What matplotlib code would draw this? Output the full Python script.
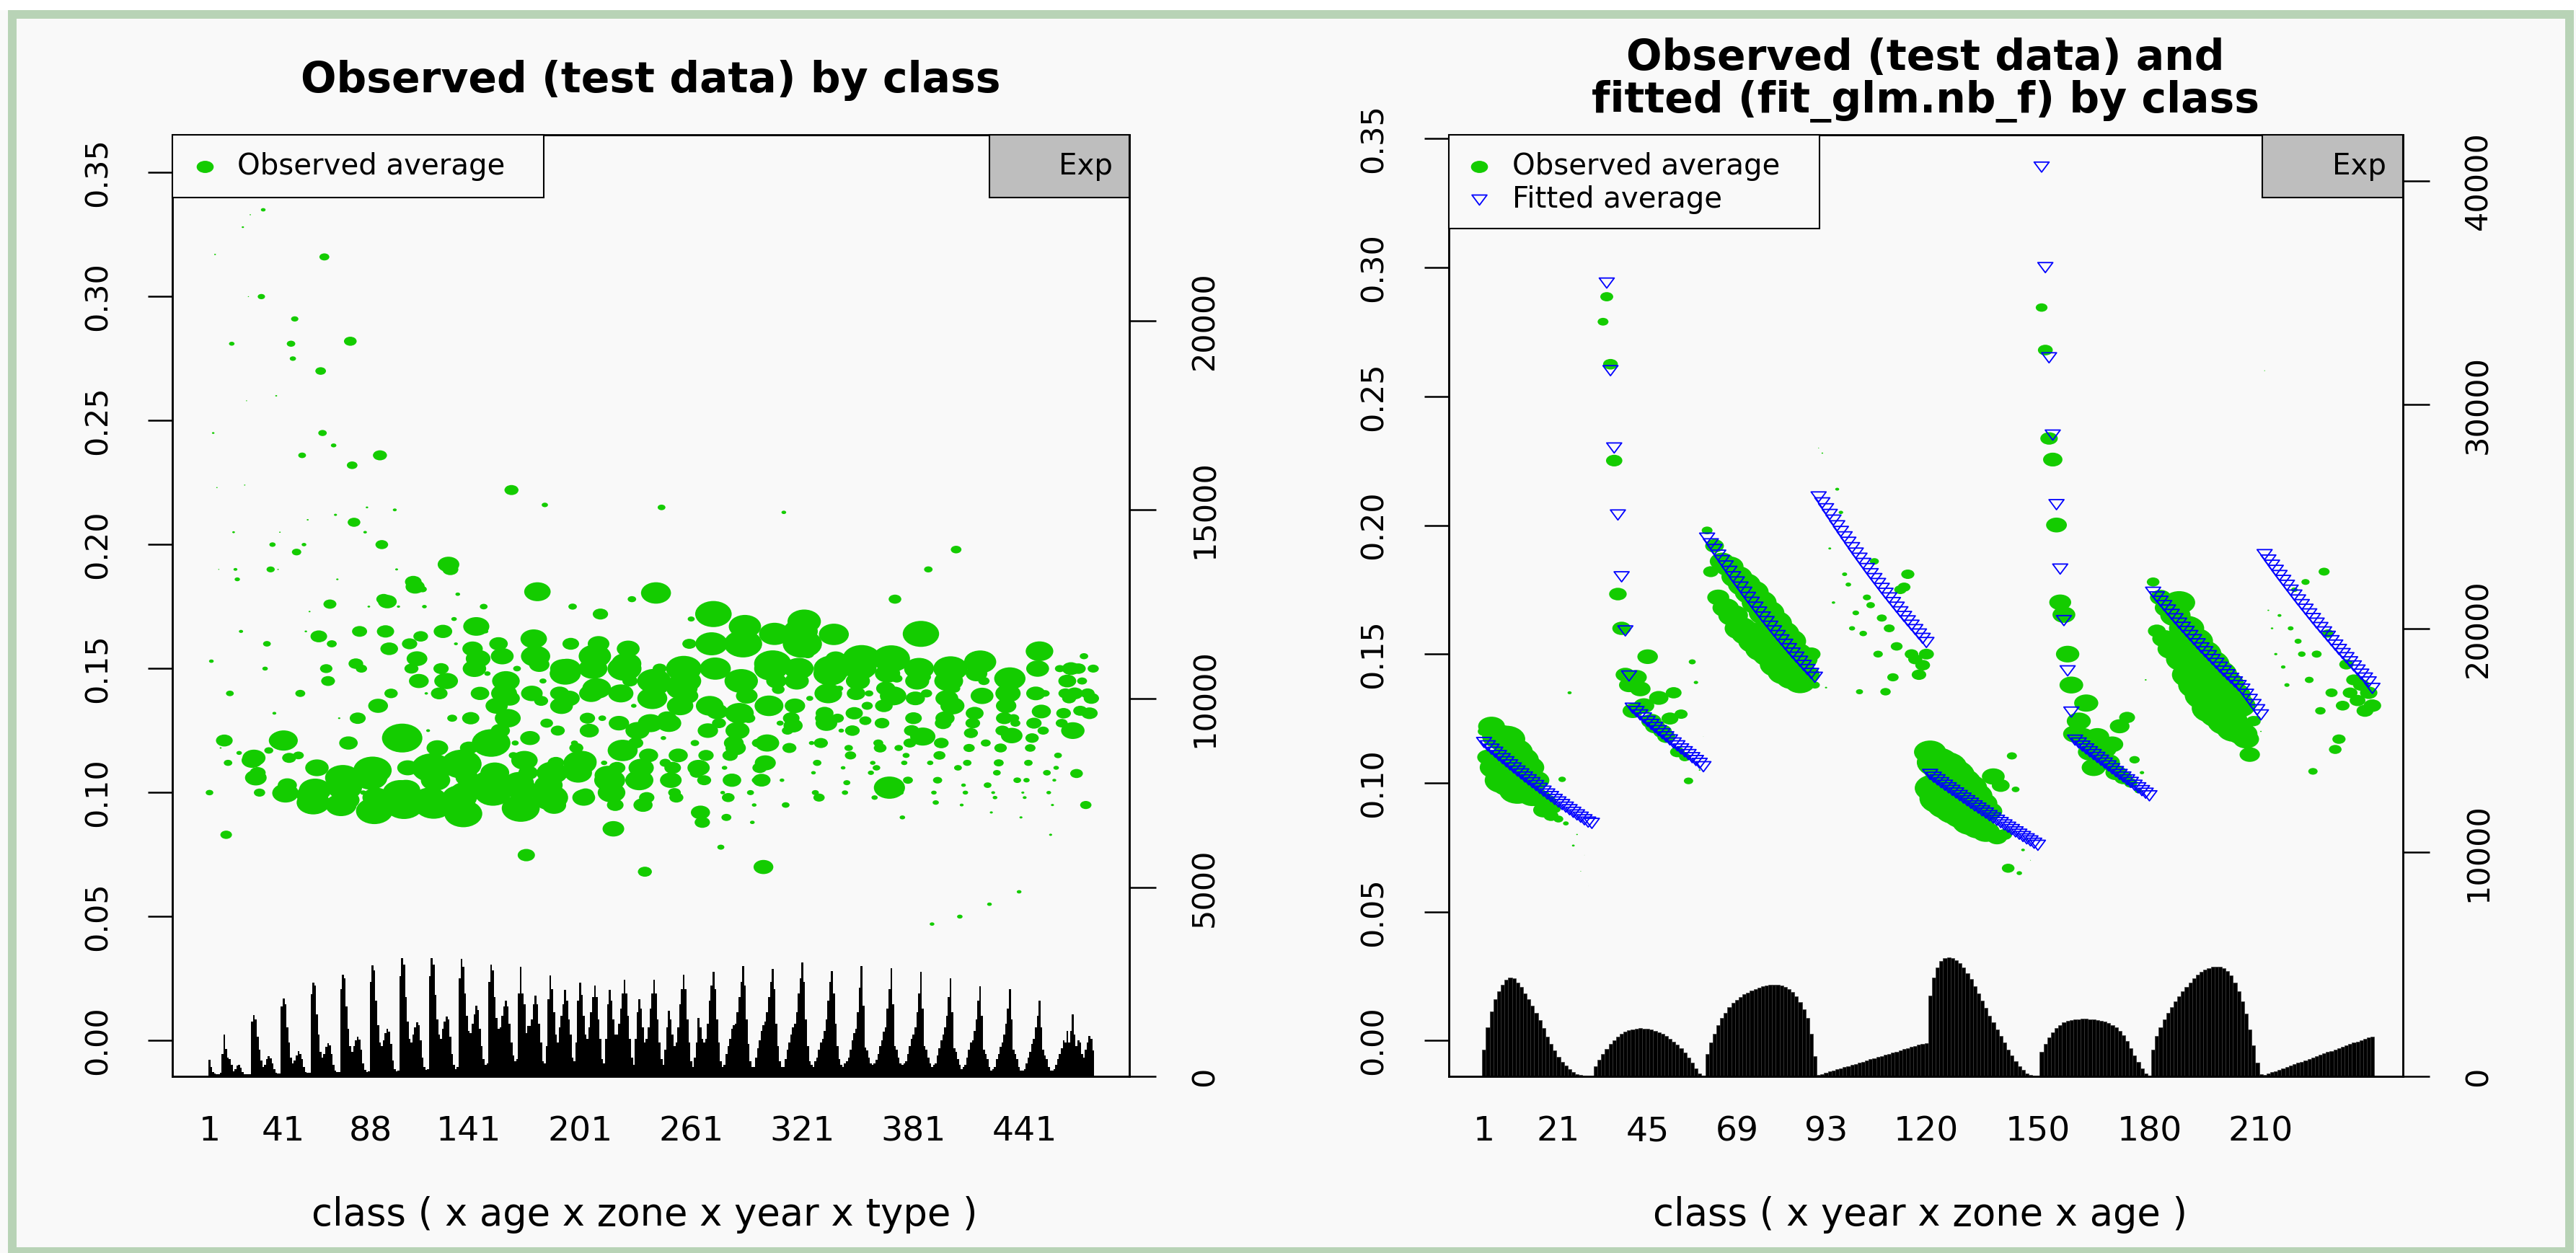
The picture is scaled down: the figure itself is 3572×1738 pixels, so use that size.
import numpy as np
import matplotlib
matplotlib.use("Agg")
import matplotlib.pyplot as plt
from matplotlib.path import Path
from matplotlib.patches import Rectangle
from matplotlib.lines import Line2D

# ---------------- data ----------------
# left panel: exposure per class (bars) and observed average (bubbles)
exp_left = [
    439, 250, 120, 80, 60, 50, 90, 600,
    1107, 720, 500, 450, 300, 130, 200, 290,
    300, 220, 110, 60, 50, 50, 60, 1450,
    1616, 1500, 1050, 700, 420, 250, 300, 450,
    534, 480, 350, 200, 90, 70, 70, 1850,
    2061, 1900, 1300, 900, 500, 350, 420, 560,
    662, 600, 450, 250, 120, 90, 90, 2180,
    2487, 2400, 1650, 1100, 650, 500, 600, 780,
    884, 820, 600, 300, 150, 110, 110, 2300,
    2697, 2600, 1850, 1250, 800, 650, 800, 950,
    1050, 980, 700, 350, 180, 120, 130, 2500,
    2933, 2800, 2000, 1350, 900, 800, 950, 1150,
    1266, 1180, 850, 420, 200, 140, 160, 2650,
    3124, 2950, 2100, 1450, 1000, 900, 1100, 1300,
    1425, 1350, 950, 500, 250, 170, 200, 2650,
    3124, 2950, 2150, 1500, 1100, 1000, 1250, 1450,
    1584, 1500, 1050, 600, 300, 200, 250, 2600,
    3113, 2900, 2200, 1600, 1200, 1150, 1400, 1650,
    1870, 1750, 1250, 800, 450, 300, 350, 2500,
    2964, 2800, 2100, 1550, 1250, 1300, 1600, 1850,
    1998, 1850, 1400, 900, 550, 400, 450, 2200,
    2907, 2200, 1900, 1150, 1340, 1340, 1500, 1900,
    2137, 1900, 1400, 900, 400, 350, 800, 2050,
    2678, 2300, 1700, 1100, 900, 1300, 1600, 1900,
    2297, 2000, 1500, 1100, 500, 400, 900, 2000,
    2475, 2150, 1600, 1100, 1000, 1300, 1700, 2100,
    2411, 2100, 1500, 1000, 450, 350, 1000, 1900,
    2284, 2000, 1500, 1100, 1100, 1400, 1800, 2200,
    2551, 2200, 1600, 1000, 500, 300, 1000, 1700,
    2042, 1800, 1300, 900, 1000, 1300, 1800, 2200,
    2551, 2200, 1500, 900, 450, 300, 700, 1300,
    1743, 1500, 1100, 800, 900, 1300, 1900, 2300,
    2697, 2300, 1500, 900, 400, 250, 500, 900,
    1552, 1300, 1000, 900, 1000, 1400, 2000, 2400,
    2773, 2300, 1500, 900, 400, 250, 300, 600,
    800, 1000, 1250, 1350, 1400, 1700, 2100, 2500,
    2920, 2400, 1500, 850, 400, 250, 250, 500,
    750, 950, 1200, 1350, 1450, 1700, 2100, 2500,
    2837, 2300, 1400, 800, 400, 250, 250, 450,
    700, 900, 1100, 1300, 1400, 1700, 2200, 2600,
    3015, 2500, 1500, 800, 400, 300, 250, 400,
    500, 700, 900, 1000, 1200, 1500, 2000, 2500,
    2793, 2200, 1400, 800, 450, 300, 250, 350,
    400, 500, 700, 950, 1150, 1250, 1700, 2350,
    2920, 1870, 760, 690, 500, 340, 300, 350,
    440, 600, 800, 950, 1180, 1300, 1800, 2300,
    2856, 1900, 800, 700, 500, 350, 300, 350,
    400, 600, 800, 1000, 1100, 1300, 1700, 2200,
    2761, 1800, 800, 700, 500, 350, 250, 300,
    350, 550, 750, 950, 1100, 1300, 1600, 2100,
    2590, 1700, 750, 650, 450, 300, 200, 250,
    300, 500, 700, 900, 950, 1200, 1500, 2000,
    2379, 1600, 700, 600, 450, 250, 150, 200,
    250, 450, 600, 790, 900, 1100, 1400, 1800,
    2316, 1500, 700, 600, 450, 250, 150, 150,
    200, 350, 500, 650, 850, 1000, 1300, 1600,
    1998, 1300, 700, 550, 450, 250, 150, 150,
    200, 300, 450, 600, 750, 950, 900, 1200,
    900, 1200, 1648, 1100, 800, 950, 900, 600,
    500, 700, 900, 1075, 1000, 690, 0, 0,
]

obs_left = [
    0.100, 0.153, 0.245, 0.317, 0.223, 0.190, 0.118, 0.121,
    0.121, 0.083, 0.112, 0.140, 0.281, 0.205, 0.190, 0.186,
    0.116, 0.165, 0.328, 0.224, 0.258, 0.300, 0.333, 0.113,
    0.114, 0.106, 0.108, 0.100, 0.300, 0.335, 0.150, 0.160,
    0.117, 0.190, 0.200, 0.132, 0.260, 0.190, 0.205, 0.121,
    0.121, 0.0998, 0.103, 0.114, 0.281, 0.275, 0.291, 0.197,
    0.115, 0.140, 0.236, 0.200, 0.165, 0.210, 0.173, 0.099,
    0.096, 0.101, 0.110, 0.163, 0.270, 0.245, 0.316, 0.150,
    0.145, 0.176, 0.160, 0.240, 0.212, 0.186, 0.130, 0.095,
    0.106, 0.102, 0.097, 0.120, 0.282, 0.232, 0.209, 0.152,
    0.130, 0.165, 0.150, 0.100, 0.205, 0.215, 0.175, 0.106,
    0.109, 0.0926, 0.098, 0.135, 0.236, 0.200, 0.178, 0.165,
    0.177, 0.158, 0.140, 0.120, 0.214, 0.190, 0.175, 0.100,
    0.122, 0.0949, 0.101, 0.110, 0.160, 0.150, 0.185, 0.183,
    0.154, 0.145, 0.163, 0.182, 0.175, 0.140, 0.125, 0.097,
    0.110, 0.095, 0.105, 0.118, 0.140, 0.150, 0.165, 0.145,
    0.145, 0.192, 0.190, 0.130, 0.170, 0.160, 0.180, 0.098,
    0.1115, 0.0915, 0.100, 0.106, 0.118, 0.130, 0.158, 0.150,
    0.167, 0.154, 0.140, 0.120, 0.175, 0.165, 0.148, 0.104,
    0.120, 0.100, 0.108, 0.135, 0.160, 0.125, 0.155, 0.140,
    0.145, 0.130, 0.138, 0.222, 0.115, 0.120, 0.150, 0.104,
    0.0937, 0.101, 0.113, 0.0748, 0.108, 0.122, 0.140, 0.162,
    0.155, 0.181, 0.1516, 0.137, 0.145, 0.216, 0.128, 0.103,
    0.098, 0.108, 0.0949, 0.112, 0.125, 0.140, 0.135, 0.150,
    0.148, 0.150, 0.138, 0.160, 0.175, 0.120, 0.118, 0.108,
    0.112, 0.1126, 0.098, 0.0993, 0.130, 0.125, 0.140, 0.150,
    0.155, 0.142, 0.160, 0.172, 0.130, 0.112, 0.100, 0.107,
    0.105, 0.100, 0.0854, 0.095, 0.110, 0.128, 0.140, 0.117,
    0.150, 0.152, 0.158, 0.145, 0.178, 0.135, 0.120, 0.125,
    0.105, 0.110, 0.095, 0.0681, 0.098, 0.115, 0.128, 0.138,
    0.145, 0.1805, 0.1427, 0.150, 0.215, 0.122, 0.112, 0.130,
    0.128, 0.105, 0.110, 0.100, 0.098, 0.115, 0.135, 0.142,
    0.150, 0.145, 0.139, 0.160, 0.170, 0.140, 0.120, 0.108,
    0.110, 0.092, 0.088, 0.105, 0.115, 0.125, 0.135, 0.160,
    0.172, 0.150, 0.1327, 0.128, 0.078, 0.100, 0.110, 0.090,
    0.098, 0.115, 0.105, 0.120, 0.118, 0.125, 0.132, 0.145,
    0.160, 0.167, 0.139, 0.130, 0.100, 0.088, 0.095, 0.105,
    0.120, 0.110, 0.105, 0.070, 0.112, 0.120, 0.135, 0.150,
    0.152, 0.164, 0.145, 0.1416, 0.128, 0.105, 0.213, 0.095,
    0.125, 0.118, 0.130, 0.127, 0.135, 0.145, 0.150, 0.165,
    0.160, 0.169, 0.160, 0.156, 0.138, 0.120, 0.108, 0.100,
    0.112, 0.098, 0.120, 0.130, 0.132, 0.128, 0.140, 0.148,
    0.150, 0.1638, 0.154, 0.130, 0.142, 0.125, 0.110, 0.100,
    0.104, 0.118, 0.115, 0.125, 0.132, 0.140, 0.145, 0.150,
    0.154, 0.150, 0.129, 0.135, 0.140, 0.108, 0.112, 0.098,
    0.110, 0.120, 0.118, 0.128, 0.135, 0.142, 0.148, 0.102,
    0.154, 0.139, 0.178, 0.146, 0.118, 0.100, 0.090, 0.112,
    0.115, 0.105, 0.120, 0.125, 0.130, 0.138, 0.145, 0.150,
    0.164, 0.1226, 0.1466, 0.140, 0.190, 0.112, 0.047, 0.100,
    0.096, 0.105, 0.115, 0.120, 0.128, 0.130, 0.138, 0.145,
    0.150, 0.135, 0.142, 0.198, 0.110, 0.050, 0.095, 0.103,
    0.100, 0.112, 0.118, 0.124, 0.128, 0.132, 0.148, 0.153,
    0.1527, 0.139, 0.145, 0.120, 0.103, 0.055, 0.092, 0.100,
    0.098, 0.108, 0.112, 0.118, 0.125, 0.130, 0.135, 0.140,
    0.146, 0.123, 0.130, 0.128, 0.105, 0.060, 0.090, 0.100,
    0.098, 0.105, 0.112, 0.118, 0.122, 0.128, 0.140, 0.150,
    0.157, 0.1327, 0.125, 0.140, 0.108, 0.100, 0.083, 0.095,
    0.105, 0.110, 0.115, 0.150, 0.128, 0.132, 0.140, 0.145,
    0.138, 0.150, 0.125, 0.140, 0.1077, 0.150, 0.133, 0.145,
    0.155, 0.095, 0.140, 0.132, 0.138, 0.150, 0.150, 0.150,
]

# right panel: exposure, observed and fitted average per class
exp_right = [
    1200, 2200, 2900, 3450, 3800, 4100, 4330, 4420, 4380, 4200,
    3980, 3700, 3450, 3150, 2850, 2520, 2150, 1780, 1450, 1150,
    880, 650, 470, 320, 200, 110, 50, 20, 10, 5,
    450, 750, 1000, 1230, 1440, 1620, 1770, 1890, 1990, 2060,
    2100, 2130, 2142, 2140, 2120, 2090, 2040, 1980, 1900, 1800,
    1690, 1560, 1420, 1250, 1060, 840, 600, 350, 130, 20,
    1000, 1500, 1900, 2300, 2600, 2850, 3080, 3270, 3420, 3550,
    3660, 3750, 3830, 3900, 3960, 4010, 4050, 4080, 4094, 4090,
    4060, 4000, 3900, 3770, 3580, 3330, 3000, 2600, 1900, 900,
    60, 110, 160, 210, 260, 310, 360, 410, 460, 510,
    560, 610, 660, 710, 760, 810, 860, 910, 960, 1010,
    1060, 1110, 1160, 1210, 1260, 1310, 1360, 1410, 1440, 1469,
    3600, 4400, 4850, 5150, 5270, 5298, 5290, 5200, 5050, 4850,
    4620, 4340, 4030, 3700, 3380, 3050, 2720, 2400, 2100, 1800,
    1500, 1200, 920, 680, 450, 280, 140, 50, 10, 5,
    1100, 1450, 1750, 1980, 2150, 2290, 2400, 2470, 2510, 2540,
    2555, 2563, 2563, 2555, 2540, 2520, 2490, 2450, 2390, 2300,
    2180, 2020, 1820, 1570, 1270, 950, 630, 350, 130, 20,
    1200, 1800, 2200, 2550, 2850, 3100, 3350, 3580, 3800, 4000,
    4200, 4380, 4530, 4660, 4760, 4830, 4880, 4895, 4880, 4820,
    4700, 4500, 4200, 3800, 3350, 2800, 2100, 1400, 600, 100,
    60, 120, 180, 240, 300, 360, 420, 480, 540, 600,
    660, 720, 780, 840, 900, 960, 1020, 1080, 1140, 1200,
    1260, 1320, 1380, 1440, 1500, 1560, 1620, 1680, 1742, 1760,
]

obs_right = [
    0.120, 0.110, 0.122, 0.106, 0.118, 0.101, 0.117, 0.100, 0.112, 0.097,
    0.109, 0.099, 0.106, 0.095, 0.101, 0.094, 0.0895, 0.093, 0.0873, 0.090,
    0.086, 0.1014, 0.0843, 0.135, 0.0757, 0.080, 0.0657, 0.072, 0.060, 0.070,
    0.330, 0.320, 0.279, 0.2887, 0.2625, 0.2251, 0.1733, 0.160, 0.142, 0.138,
    0.128, 0.141, 0.1365, 0.130, 0.149, 0.124, 0.122, 0.133, 0.120, 0.118,
    0.125, 0.135, 0.112, 0.1267, 0.110, 0.1008, 0.147, 0.139, 0.105, 0.118,
    0.198, 0.182, 0.192, 0.172, 0.186, 0.168, 0.184, 0.165, 0.180, 0.160,
    0.177, 0.158, 0.174, 0.155, 0.170, 0.152, 0.166, 0.150, 0.162, 0.146,
    0.158, 0.143, 0.155, 0.141, 0.150, 0.139, 0.148, 0.142, 0.150, 0.138,
    0.230, 0.228, 0.137, 0.191, 0.170, 0.214, 0.205, 0.181, 0.177, 0.160,
    0.166, 0.1354, 0.158, 0.172, 0.169, 0.186, 0.150, 0.164, 0.1354, 0.160,
    0.141, 0.153, 0.175, 0.176, 0.181, 0.150, 0.148, 0.142, 0.1457, 0.150,
    0.112, 0.098, 0.108, 0.094, 0.106, 0.092, 0.103, 0.090, 0.100, 0.088,
    0.098, 0.085, 0.095, 0.083, 0.092, 0.081, 0.089, 0.1025, 0.079, 0.099,
    0.080, 0.0669, 0.1105, 0.0975, 0.065, 0.074, 0.078, 0.070, 0.072, 0.060,
    0.2845, 0.268, 0.2337, 0.2255, 0.2001, 0.1701, 0.1653, 0.150, 0.138, 0.119,
    0.124, 0.118, 0.131, 0.112, 0.106, 0.118, 0.110, 0.113, 0.108, 0.115,
    0.104, 0.122, 0.102, 0.1254, 0.100, 0.109, 0.097, 0.104, 0.140, 0.095,
    0.178, 0.159, 0.172, 0.156, 0.168, 0.152, 0.165, 0.170, 0.148, 0.160,
    0.142, 0.155, 0.138, 0.150, 0.134, 0.146, 0.129, 0.142, 0.127, 0.138,
    0.124, 0.134, 0.121, 0.130, 0.119, 0.117, 0.111, 0.124, 0.125, 0.120,
    0.260, 0.167, 0.160, 0.150, 0.165, 0.145, 0.138, 0.160, 0.175, 0.155,
    0.150, 0.178, 0.140, 0.1045, 0.150, 0.128, 0.182, 0.158, 0.135, 0.113,
    0.117, 0.130, 0.146, 0.135, 0.140, 0.132, 0.138, 0.128, 0.135, 0.130,
]

fit_right = [
    0.1157, 0.1144, 0.1131, 0.1119, 0.1106, 0.1094, 0.1082, 0.1070, 0.1058, 0.1046,
    0.1035, 0.1023, 0.1012, 0.1001, 0.0990, 0.0979, 0.0968, 0.0957, 0.0947, 0.0936,
    0.0926, 0.0916, 0.0906, 0.0896, 0.0886, 0.0876, 0.0867, 0.0857, 0.0848, 0.0843,
    0.4200, 0.3750, 0.3320, 0.2940, 0.2600, 0.2300, 0.2040, 0.1800, 0.1590, 0.1415,
    0.1290, 0.1277, 0.1264, 0.1252, 0.1239, 0.1227, 0.1215, 0.1203, 0.1191, 0.1179,
    0.1167, 0.1155, 0.1144, 0.1132, 0.1121, 0.1110, 0.1098, 0.1087, 0.1076, 0.1063,
    0.1950, 0.1928, 0.1906, 0.1884, 0.1863, 0.1842, 0.1821, 0.1800, 0.1780, 0.1760,
    0.1740, 0.1720, 0.1701, 0.1682, 0.1663, 0.1644, 0.1626, 0.1608, 0.1590, 0.1572,
    0.1555, 0.1538, 0.1521, 0.1504, 0.1488, 0.1472, 0.1456, 0.1440, 0.1425, 0.1410,
    0.2110, 0.2087, 0.2064, 0.2042, 0.2020, 0.1998, 0.1976, 0.1955, 0.1934, 0.1913,
    0.1892, 0.1872, 0.1852, 0.1832, 0.1812, 0.1793, 0.1774, 0.1755, 0.1736, 0.1718,
    0.1700, 0.1682, 0.1664, 0.1646, 0.1629, 0.1612, 0.1595, 0.1578, 0.1561, 0.1545,
    0.1033, 0.1022, 0.1012, 0.1001, 0.0991, 0.0981, 0.0971, 0.0961, 0.0951, 0.0941,
    0.0931, 0.0921, 0.0911, 0.0902, 0.0892, 0.0883, 0.0873, 0.0864, 0.0855, 0.0846,
    0.0837, 0.0828, 0.0819, 0.0810, 0.0801, 0.0792, 0.0783, 0.0775, 0.0766, 0.0758,
    0.3390, 0.3000, 0.2650, 0.2350, 0.2080, 0.1830, 0.1630, 0.1435, 0.1275, 0.1166,
    0.1155, 0.1143, 0.1132, 0.1121, 0.1110, 0.1099, 0.1088, 0.1077, 0.1066, 0.1055,
    0.1044, 0.1033, 0.1023, 0.1012, 0.1002, 0.0991, 0.0981, 0.0970, 0.0960, 0.0950,
    0.1740, 0.1722, 0.1705, 0.1688, 0.1671, 0.1654, 0.1637, 0.1620, 0.1604, 0.1588,
    0.1572, 0.1556, 0.1540, 0.1524, 0.1509, 0.1494, 0.1479, 0.1464, 0.1449, 0.1434,
    0.1420, 0.1406, 0.1392, 0.1378, 0.1364, 0.1344, 0.1324, 0.1304, 0.1284, 0.1264,
    0.1886, 0.1865, 0.1845, 0.1825, 0.1805, 0.1786, 0.1767, 0.1748, 0.1729, 0.1710,
    0.1692, 0.1674, 0.1656, 0.1638, 0.1620, 0.1603, 0.1586, 0.1569, 0.1552, 0.1535,
    0.1518, 0.1502, 0.1486, 0.1470, 0.1454, 0.1438, 0.1422, 0.1407, 0.1392, 0.1367,
]

xticks_left = [1, 41, 88, 141, 201, 261, 321, 381, 441]
xticks_right = [1, 21, 45, 69, 93, 120, 150, 180, 210]
rate_ticks = [0.00, 0.05, 0.10, 0.15, 0.20, 0.25, 0.30, 0.35]
exp_ticks_left = [0, 5000, 10000, 15000, 20000]
exp_ticks_right = [0, 10000, 20000, 30000, 40000]

# ---------------- style ----------------
W, H, DPI = 3573, 1738, 100
GREEN = "#14CC00"
BLUE = "#0000FF"
BG = "#F9F9F9"

def fx(x):
    return x / W

def fy(y):
    return 1 - y / H

# the picture is stretched horizontally, so circles are ellipses
circ = Path.unit_circle()
ellipse = Path(circ.vertices * np.array([1.4, 1.0]), circ.codes)
tri_down = Path([(-1, 0.67), (1, 0.67), (0, -0.67), (-1, 0.67)],
                [Path.MOVETO, Path.LINETO, Path.LINETO, Path.CLOSEPOLY])

fig = plt.figure(figsize=(W / DPI, H / DPI), dpi=DPI, facecolor=BG)
fig.add_artist(Rectangle((0, fy(14)), 1, 14 / H, transform=fig.transFigure,
                         facecolor="white", edgecolor="none", zorder=0))
fig.add_artist(Rectangle((fx(17), fy(1736)), fx(3563) - fx(17), (1736 - 20) / H,
                         transform=fig.transFigure, fill=False,
                         edgecolor="#B8D3B6", lw=8.6, zorder=20))


def panel(left_px, right_px, n, exposure, obs, ylim, explim, xlim, xticks,
          exp_ticks, dmax, bar_edge, fitted=None):
    ax = fig.add_axes([fx(left_px), fy(1493), (right_px - left_px) / W,
                       (1493 - 186.6) / H])
    ax2 = ax.twinx()
    classes = np.arange(1, n + 1)
    ax2.bar(classes, exposure, width=1.0, color="black",
            edgecolor=bar_edge, linewidth=0.5 if bar_edge else 0)
    ax2.set_ylim(*explim)
    ax.set_zorder(ax2.get_zorder() + 1)
    ax.patch.set_visible(False)

    # bubble width in pixels grows with exposure
    w = np.asarray(exposure, dtype=float)
    d_px = dmax * (w / w.max()) ** 0.85
    ax.scatter(classes, obs, s=(d_px * 0.72) ** 2, marker=ellipse,
               c=GREEN, linewidths=0)
    if fitted is not None:
        ax.scatter(classes, fitted, s=15 ** 2, marker=tri_down,
                   facecolors="none", edgecolors=BLUE, linewidths=1.3)

    ax.set_xlim(*xlim)
    ax.set_ylim(*ylim)
    ax.set_xticks(xticks)
    ax.set_xticklabels([str(t) for t in xticks])
    ax.tick_params(axis="x", length=0, pad=39, labelsize=34)
    ax.set_yticks(rate_ticks)
    ax.set_yticklabels([f"{t:.2f}" for t in rate_ticks])
    ax.tick_params(axis="y", direction="out", length=24.5, width=1.8,
                   pad=35, labelsize=31)
    plt.setp(ax.get_yticklabels(), rotation=90, va="center")

    ax2.set_yticks(exp_ticks)
    ax2.set_yticklabels([str(t) for t in exp_ticks])
    ax2.tick_params(axis="y", direction="out", length=26.6, width=1.8,
                    pad=33.6, labelsize=31)
    plt.setp(ax2.get_yticklabels(), rotation=90, va="center")

    for a in (ax, ax2):
        for sp in a.spines.values():
            sp.set_linewidth(1.8)
            sp.set_color("black")
    return ax


panel(239, 1566, 480, exp_left, obs_left, (-0.01442, 0.36535), (0, 24931),
      (-19.05, 497.5), xticks_left, exp_ticks_left, 56, None)
panel(2008.7, 3331.7, 240, exp_right, obs_right, (-0.01388, 0.35165),
      (0, 42074), (-8.55, 248.15), xticks_right, exp_ticks_right, 62,
      "#3a3a3a", fitted=fit_right)

# titles and axis labels
fig.text(fx(902.5), fy(112), "Observed (test data) by class", ha="center",
         va="center", fontsize=42, fontweight="bold")
fig.text(fx(2670), fy(80), "Observed (test data) and", ha="center",
         va="center", fontsize=42, fontweight="bold")
fig.text(fx(2670), fy(140.6), "fitted (fit_glm.nb_f) by class", ha="center",
         va="center", fontsize=42, fontweight="bold")
fig.text(fx(894), fy(1685), "class ( x age x zone x year x type )",
         ha="center", va="center", fontsize=38)
fig.text(fx(2663), fy(1685), "class ( x year x zone x age )",
         ha="center", va="center", fontsize=38)


def box(x0, x1, y0, y1, color):
    fig.add_artist(Rectangle((fx(x0), fy(y1)), fx(x1) - fx(x0), (y1 - y0) / H,
                             transform=fig.transFigure, facecolor=color,
                             edgecolor="black", lw=1.5, zorder=10))


def mark(x, y, marker, size, **kw):
    fig.add_artist(Line2D([fx(x)], [fy(y)], marker=marker, markersize=size,
                          linestyle="none", transform=fig.transFigure,
                          zorder=11, **kw))


# legends
box(239, 754, 186.6, 274.4, BG)
mark(283.6, 231.3, ellipse, 17, color=GREEN, markeredgewidth=0)
fig.text(fx(329.5), fy(231.3), "Observed average", ha="left", va="center",
         fontsize=29, zorder=12)
box(1372, 1566, 186.6, 274.4, "#BEBEBE")
fig.text(fx(1543), fy(231.3), "Exp", ha="right", va="center", fontsize=29,
         zorder=12)

box(2008.7, 2523.3, 186.6, 316.9, BG)
mark(2051, 231.3, ellipse, 17, color=GREEN, markeredgewidth=0)
mark(2051, 277.3, tri_down, 15, markerfacecolor="none",
     markeredgecolor=BLUE, markeredgewidth=1.3)
fig.text(fx(2096.7), fy(231.3), "Observed average", ha="left", va="center",
         fontsize=29, zorder=12)
fig.text(fx(2096.7), fy(277.3), "Fitted average", ha="left", va="center",
         fontsize=29, zorder=12)
box(3137.4, 3331.7, 186.6, 274.4, "#BEBEBE")
fig.text(fx(3309), fy(231.3), "Exp", ha="right", va="center", fontsize=29,
         zorder=12)

fig.savefig("out.png", dpi=DPI, facecolor=fig.get_facecolor())
